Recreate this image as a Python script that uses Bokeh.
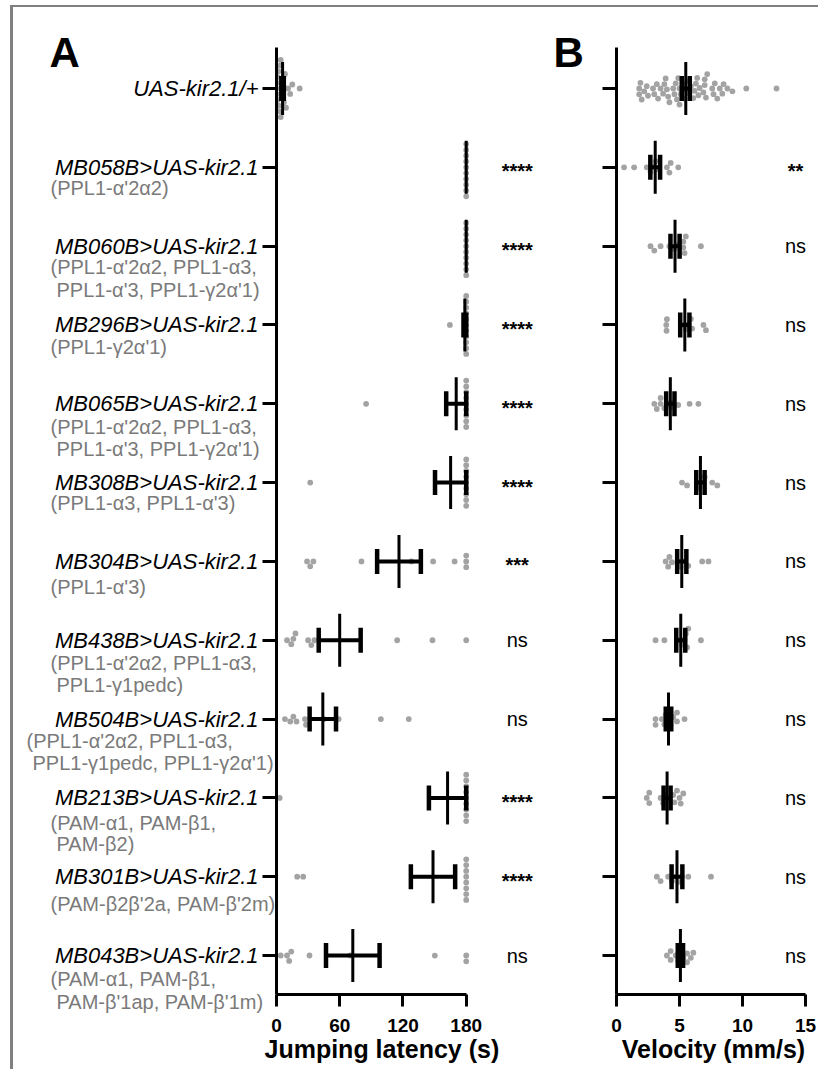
import math
from bokeh.plotting import figure
from bokeh.models import Range1d, FixedTicker
from bokeh.layouts import row
from bokeh.embed import file_html
from bokeh.resources import INLINE
from bokeh.core.properties import value

FONT = "Liberation Sans"

# ---------------- data ----------------
genotypes = [
    "UAS-kir2.1/+",
    "MB058B>UAS-kir2.1",
    "MB060B>UAS-kir2.1",
    "MB296B>UAS-kir2.1",
    "MB065B>UAS-kir2.1",
    "MB308B>UAS-kir2.1",
    "MB304B>UAS-kir2.1",
    "MB438B>UAS-kir2.1",
    "MB504B>UAS-kir2.1",
    "MB213B>UAS-kir2.1",
    "MB301B>UAS-kir2.1",
    "MB043B>UAS-kir2.1",
]
subtitles = [
    [],
    ["(PPL1-α'2α2)"],
    ["(PPL1-α'2α2, PPL1-α3,", "PPL1-α'3, PPL1-γ2α'1)"],
    ["(PPL1-γ2α'1)"],
    ["(PPL1-α'2α2, PPL1-α3,", "PPL1-α'3, PPL1-γ2α'1)"],
    ["(PPL1-α3, PPL1-α'3)"],
    ["(PPL1-α'3)"],
    ["(PPL1-α'2α2, PPL1-α3,", "PPL1-γ1pedc)"],
    ["(PPL1-α'2α2, PPL1-α3,", "PPL1-γ1pedc, PPL1-γ2α'1)"],
    ["(PAM-α1, PAM-β1,", "PAM-β2)"],
    ["(PAM-β2β'2a, PAM-β'2m)"],
    ["(PAM-α1, PAM-β1,", "PAM-β'1ap, PAM-β'1m)"],
]
sig_latency = ["", "****", "****", "****", "****", "****", "***", "ns", "ns", "****", "****", "ns"]
sig_velocity = ["", "**", "ns", "ns", "ns", "ns", "ns", "ns", "ns", "ns", "ns", "ns"]

latency_ctrl = [0, 0, 0, 1, 1, 2, 2, 3, 3, 4, 4, 5, 5, 6, 6, 7, 8, 9, 11, 13, 15, 22]
latency_mb058b = [180, 180, 180, 180, 180, 180, 180, 180, 180, 180]
latency_mb060b = [180, 180, 180, 180, 180, 180, 180, 180, 180, 180]
latency_mb296b = [164.5, 180, 180, 180, 180, 180, 180, 180, 180, 180, 180, 180]
latency_mb065b = [85, 180, 180, 180, 180, 180, 180, 180, 180, 180]
latency_mb308b = [32, 180, 180, 180, 180, 180, 180, 180, 180, 180]
latency_mb304b = [29, 32, 35, 80.6, 128, 148.6, 169, 180, 180, 180]
latency_mb438b = [10, 14, 16, 18, 30, 33, 36, 114.5, 148, 180]
latency_mb504b = [8, 13, 16, 19, 27, 28, 45, 59, 99, 125.5]
latency_mb213b = [3, 180, 180, 180, 180, 180, 180, 180, 180, 180]
latency_mb301b = [19.6, 25.3, 180, 180, 180, 180, 180, 180, 180, 180]
latency_mb043b = [4, 10, 12, 14, 31.3, 70, 150.2, 180, 180]

velocity_ctrl = [1.8, 1.8, 1.9, 2.0, 2.2, 2.4, 2.5, 2.9, 3.0, 3.2, 3.3, 3.5,
                 3.7, 3.8, 3.9, 4.0, 4.1, 4.2, 4.5, 4.6, 4.7, 4.8, 4.9, 5.0, 5.0, 5.1,
                 5.3, 5.4, 5.5, 5.7, 5.8, 5.9, 6.1, 6.2, 6.3, 6.4, 6.5, 6.6,
                 6.9, 7.0, 7.0, 7.1, 7.2, 7.6, 7.7, 7.8, 8.0, 8.2, 8.4, 8.5, 8.8, 9.2, 10.3, 12.7]
velocity_mb058b = [0.6, 1.4, 2.4, 2.7, 2.9, 3.1, 3.3, 4.0, 4.2, 4.3, 4.9]
velocity_mb060b = [2.7, 3.0, 3.5, 4.2, 4.6, 4.9, 5.3, 5.3, 5.4, 5.5, 6.7]
velocity_mb296b = [3.95, 3.97, 4.0, 5.2, 5.5, 5.7, 5.9, 6.0, 6.9, 7.1]
velocity_mb065b = [3.0, 3.2, 3.5, 3.5, 3.8, 4.0, 4.3, 4.5, 4.9, 5.8, 6.5]
velocity_mb308b = [5.2, 5.6, 6.4, 6.6, 6.9, 7.0, 7.6, 8.0]
velocity_mb304b = [3.9, 4.1, 4.2, 4.4, 4.9, 5.1, 5.4, 5.7, 6.8, 7.3]
velocity_mb438b = [3.1, 3.8, 4.9, 5.2, 5.4, 5.5, 5.6, 5.7, 6.7]
velocity_mb504b = [3.1, 3.1, 3.6, 3.8, 3.9, 4.1, 4.3, 4.5, 4.8, 4.8, 5.4]
velocity_mb213b = [2.4, 2.6, 2.6, 3.5, 3.7, 3.9, 4.2, 4.5, 4.6, 4.8, 5.0, 5.1, 5.3]
velocity_mb301b = [3.2, 3.5, 4.1, 4.4, 4.7, 4.9, 5.2, 5.7, 7.5]
velocity_mb043b = [4.0, 4.3, 4.3, 4.7, 4.9, 5.1, 5.3, 5.6, 5.6, 5.9, 6.1]

latency_ticks = [0, 60, 120, 180]
velocity_ticks = [0, 5, 10, 15]

latency = [latency_ctrl, latency_mb058b, latency_mb060b, latency_mb296b, latency_mb065b,
           latency_mb308b, latency_mb304b, latency_mb438b, latency_mb504b, latency_mb213b,
           latency_mb301b, latency_mb043b]
velocity = [velocity_ctrl, velocity_mb058b, velocity_mb060b, velocity_mb296b, velocity_mb065b,
            velocity_mb308b, velocity_mb304b, velocity_mb438b, velocity_mb504b, velocity_mb213b,
            velocity_mb301b, velocity_mb043b]

# ---------------- layout constants (pixels of the page) ----------------
X0, Y0 = 13, 7            # content origin after margin + border
TICK0 = 88                # pixel row of first category
PPY = 78.82               # pixels per category
FRAME_BOT = 994
H = 1062
MBB = (Y0 + H) - FRAME_BOT
Y_END = -(TICK0 - Y0) / PPY              # value at frame top
Y_START = (FRAME_BOT - TICK0) / PPY      # value at frame bottom
Y_START_L = (Y0 + H - TICK0) / PPY       # label column reaches the canvas bottom
AXIS_TOP = -(TICK0 - 47) / PPY           # where the y axis line starts

A_LEFT, A_AXIS, A_FRAME_RIGHT, A_RIGHT = 262, 276, 584, 604
L_W = A_AXIS - X0                        # label column overlaps the tick area of panel A
A_PPX = 1.054
B_LEFT, B_AXIS, B_FRAME_RIGHT, B_RIGHT = 584, 616, 810, 818
B_PPX = 12.6

DOT = "#a3a3a3"
DOT_D = 5.8
GRAY_TXT = "#7a7a7a"

sub_offsets = [[], [21], [21, 44], [22], [23, 45], [20], [26], [23, 45], [22, 44], [25, 46], [27], [23, 46]]
sub_left = [50, 50, 50, 50, 50, 50, 50, 50, 26, 50, 50, 50]

yr = Range1d(Y_START, Y_END)
yr_l = Range1d(Y_START_L, Y_END)


def swarm_offsets(vals, ppx, d=DOT_D):
    order = sorted(range(len(vals)), key=lambda k: vals[k])
    placed = []
    out = [0.0] * len(vals)
    for k in order:
        x = vals[k] * ppx
        iv = []
        for (px, py) in placed:
            dx = abs(x - px)
            if dx < d:
                h = math.sqrt(d * d - dx * dx)
                iv.append((py - h, py + h))
        cands = sorted([0.0] + [a for a, _ in iv] + [b for _, b in iv], key=lambda c: (abs(c), -c))
        y = 0.0
        for c in cands:
            if all(not (a + 1e-6 < c < b - 1e-6) for a, b in iv):
                y = c
                break
        placed.append((x, y))
        out[k] = y
    return out


def mean_sem(v):
    n = len(v)
    m = sum(v) / n
    sd = math.sqrt(sum((x - m) ** 2 for x in v) / (n - 1))
    return m, sd / math.sqrt(n)


def base_fig(width, x_range, y_range, mbl, mbr, mbb, axes=True):
    kw = dict(width=width, height=H, x_range=x_range, y_range=y_range,
              output_backend="svg", toolbar_location=None,
              min_border_left=mbl, min_border_right=mbr,
              min_border_top=0, min_border_bottom=mbb)
    if not axes:
        kw.update(x_axis_location=None, y_axis_location=None)
    p = figure(**kw)
    p.outline_line_color = None
    p.xgrid.visible = False
    p.ygrid.visible = False
    p.background_fill_color = "white"
    p.border_fill_color = "white"
    return p


def make_panel(data, ppx, left, axis_x, frame_right, right, ticks, title, sig, sig_px):
    mbl = axis_x - left
    frame_w = frame_right - axis_x
    p = base_fig(right - left, Range1d(0, frame_w / ppx), yr, mbl, right - frame_right, MBB)

    xs, ys = [], []
    for i, vals in enumerate(data):
        offs = swarm_offsets(vals, ppx)
        for v, o in zip(vals, offs):
            xs.append(v)
            ys.append(i + o / PPY)
    p.scatter(xs, ys, size=DOT_D, fill_color=DOT, line_color=None)

    mx, my0, my1 = [], [], []
    bx0, bx1, by = [], [], []
    cx, cy0, cy1 = [], [], []
    for i, vals in enumerate(data):
        m, s = mean_sem(vals)
        mx.append(m)
        my0.append(i - 26.5 / PPY)
        my1.append(i + 26.5 / PPY)
        if s > 0:
            bx0.append(m - s)
            bx1.append(m + s)
            by.append(i)
            for c in (m - s, m + s):
                cx.append(c)
                cy0.append(i - 12.5 / PPY)
                cy1.append(i + 12.5 / PPY)
    p.segment(bx0, by, bx1, by, line_color="black", line_width=4)
    p.segment(cx, cy0, cx, cy1, line_color="black", line_width=4.5)
    p.segment(mx, my0, mx, my1, line_color="black", line_width=3)

    for kind, off, style in (("*", 4, "bold"), ("n", 0, "normal")):
        sx, sy, st = [], [], []
        for i, s in enumerate(sig):
            if s and s[0] == kind:
                sx.append((sig_px - axis_x) / ppx)
                sy.append(i + off / PPY)
                st.append(s)
        p.text(sx, sy, text=st, text_align="center", text_baseline="middle",
               text_font=value(FONT), text_font_size="20px", text_font_style=style,
               text_color="black")

    xa = p.xaxis[0]
    xa.ticker = FixedTicker(ticks=ticks)
    xa.bounds = (ticks[0], ticks[-1])
    xa.axis_line_width = 3
    xa.major_tick_line_width = 3
    xa.major_tick_out = 12
    xa.major_tick_in = 0
    xa.minor_tick_out = 0
    xa.minor_tick_in = 0
    xa.major_label_text_font = FONT
    xa.major_label_text_font_size = "19px"
    xa.major_label_text_font_style = "bold"
    xa.major_label_text_color = "black"
    xa.major_label_standoff = 12
    xa.axis_label = title
    xa.axis_label_text_font = FONT
    xa.axis_label_text_font_size = "25px"
    xa.axis_label_text_font_style = "bold"
    xa.axis_label_text_color = "black"
    xa.axis_label_standoff = 0

    ya = p.yaxis[0]
    ya.ticker = FixedTicker(ticks=list(range(len(genotypes))))
    ya.bounds = (AXIS_TOP, Y_START)
    ya.axis_line_width = 3
    ya.major_tick_line_width = 3
    ya.major_tick_out = 14
    ya.major_tick_in = 0
    ya.minor_tick_out = 0
    ya.minor_tick_in = 0
    ya.major_label_overrides = {i: "" for i in range(len(genotypes))}
    ya.major_label_text_font_size = "0px"
    ya.major_label_standoff = 0
    return p


# the title of panel A is centred on its 0-180 axis (trailing no-break spaces shift the centre)
pA = make_panel(latency, A_PPX, A_LEFT, A_AXIS, A_FRAME_RIGHT, A_RIGHT, latency_ticks,
                "Jumping latency (s)" + "\u00a0" * 14, sig_latency, 516.7)
pB = make_panel(velocity, B_PPX, B_LEFT, B_AXIS, B_FRAME_RIGHT, B_RIGHT,
                velocity_ticks, "Velocity (mm/s)", sig_velocity, 795.0)

# transparent borders let neighbouring canvases overlap slightly
pA.border_fill_alpha = 0
pA.styles = {"margin-left": f"-{A_AXIS - A_LEFT}px"}
pB.border_fill_alpha = 0
pB.styles = {"margin-left": f"-{A_RIGHT - B_LEFT}px"}

# ---------------- label column ----------------
pL = base_fig(L_W, Range1d(0, L_W), yr_l, 0, 0, 0, axes=False)
if hasattr(pL, "frame_align"):
    pL.frame_align = False
pL.text([258 - X0] * len(genotypes), list(range(len(genotypes))), text=genotypes,
        text_align="right", text_baseline="middle", text_font=value(FONT),
        text_font_size="22px", text_font_style="italic", text_color="black")
gx, gy, gt = [], [], []
for i, lines in enumerate(subtitles):
    for j, line in enumerate(lines):
        gx.append(sub_left[i] - X0 + (6 if j > 0 else 0))
        gy.append(i + sub_offsets[i][j] / PPY)
        gt.append(line)
pL.text(gx, gy, text=gt, text_align="left", text_baseline="middle", text_font=value(FONT),
        text_font_size="20px", text_color=GRAY_TXT)

# panel letters
letter_y = AXIS_TOP + 5 / PPY
pL.text([49 - X0], [letter_y], text=["A"], text_align="left", text_baseline="alphabetic",
        text_font=value(FONT), text_font_size="42px", text_font_style="bold", text_color="black")
pA.text([(553 - A_AXIS) / A_PPX], [letter_y], text=["B"], text_align="left", text_baseline="alphabetic",
        text_font=value(FONT), text_font_size="42px", text_font_style="bold", text_color="black")

layout = row(pL, pA, pB, styles={"margin-left": "10px", "margin-top": "5px",
                                 "border-left": "3px solid #808080",
                                 "border-top": "2px solid #808080"})

open("out.html", "w").write(file_html(layout, INLINE))
